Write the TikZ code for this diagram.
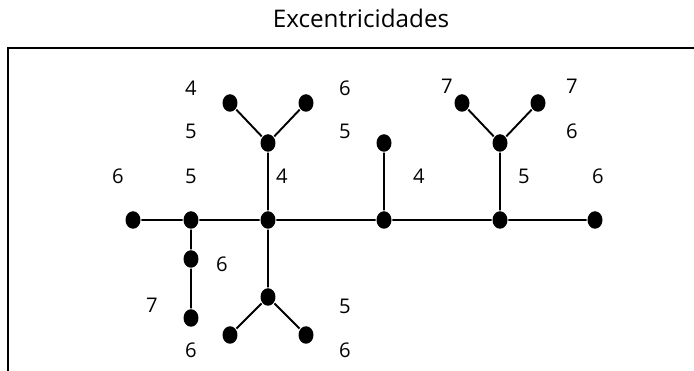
\documentclass[tikz,border=0pt]{standalone}
\usepackage{fontspec}
\setmainfont{Open Sans}
\usetikzlibrary{shapes.geometric}

\tikzset{
  vert/.style={ellipse, fill=black, minimum width=0.3cm, minimum height=0.35cm, inner sep=0pt},
  ecc/.style={font=\fontsize{11.5}{13}\selectfont, inner sep=0pt}
}

\begin{document}
\begin{tikzpicture}[x=0.02cm,y=-0.02cm,line width=1.1pt]
        \useasboundingbox (0,0) rectangle (694,371);
        \node[font=\fontsize{13.8}{16}\selectfont] (title) at (361,18) {Excentricidades};
        \draw[line width=0.9pt] (8,371) -- (8,48) -- (694,48);

        % main line
        \node[vert] (l1) at (133,220) {};
        \node[vert] (a)  at (191,220) {};
        \node[vert] (c)  at (268,220) {};
        \node[vert] (d)  at (384,220) {};
        \node[vert] (e)  at (500,220) {};
        \node[vert] (r)  at (595,220) {};

        % upper branches
        \node[vert] (u1) at (268,143) {};
        \node[vert] (t1) at (230,103) {};
        \node[vert] (t2) at (306,103) {};
        \node[vert] (u2) at (384,143) {};
        \node[vert] (u3) at (500,143) {};
        \node[vert] (t3) at (462,103) {};
        \node[vert] (t4) at (538,103) {};

        % lower branches
        \node[vert] (b1) at (191,259) {};
        \node[vert] (b2) at (191,318) {};
        \node[vert] (v)  at (268,297) {};
        \node[vert] (w1) at (230,335) {};
        \node[vert] (w2) at (306,335) {};

        \path[draw]
                 (l1) -- (a)
                 (a) -- (c)
                 (c) -- (d)
                 (d) -- (e)
                 (e) -- (r)
                 (c) -- (u1)
                 (u1) -- (t1)
                 (u1) -- (t2)
                 (d) -- (u2)
                 (e) -- (u3)
                 (u3) -- (t3)
                 (u3) -- (t4)
                 (a) -- (b1)
                 (b1) -- (b2)
                 (c) -- (v)
                 (v) -- (w1)
                 (v) -- (w2)
                 ;

        % eccentricities
        \node[ecc] (et1) at (191,88) {4};
        \node[ecc] (et2) at (345,88) {6};
        \node[ecc] (et3) at (447,86) {7};
        \node[ecc] (et4) at (572,86) {7};
        \node[ecc] (eu1) at (191,131) {5};
        \node[ecc] (eu2) at (345,131) {5};
        \node[ecc] (eu3) at (572,131) {6};
        \node[ecc] (el1) at (118,176) {6};
        \node[ecc] (ea)  at (191,176) {5};
        \node[ecc] (ec)  at (282,176) {4};
        \node[ecc] (ed)  at (419,176) {4};
        \node[ecc] (ee)  at (524,176) {5};
        \node[ecc] (er)  at (598,176) {6};
        \node[ecc] (eb1) at (222,264) {6};
        \node[ecc] (eb2) at (152,305) {7};
        \node[ecc] (ev)  at (345,306) {5};
        \node[ecc] (ew1) at (191,350) {6};
        \node[ecc] (ew2) at (345,350) {6};
\end{tikzpicture}
\end{document}
